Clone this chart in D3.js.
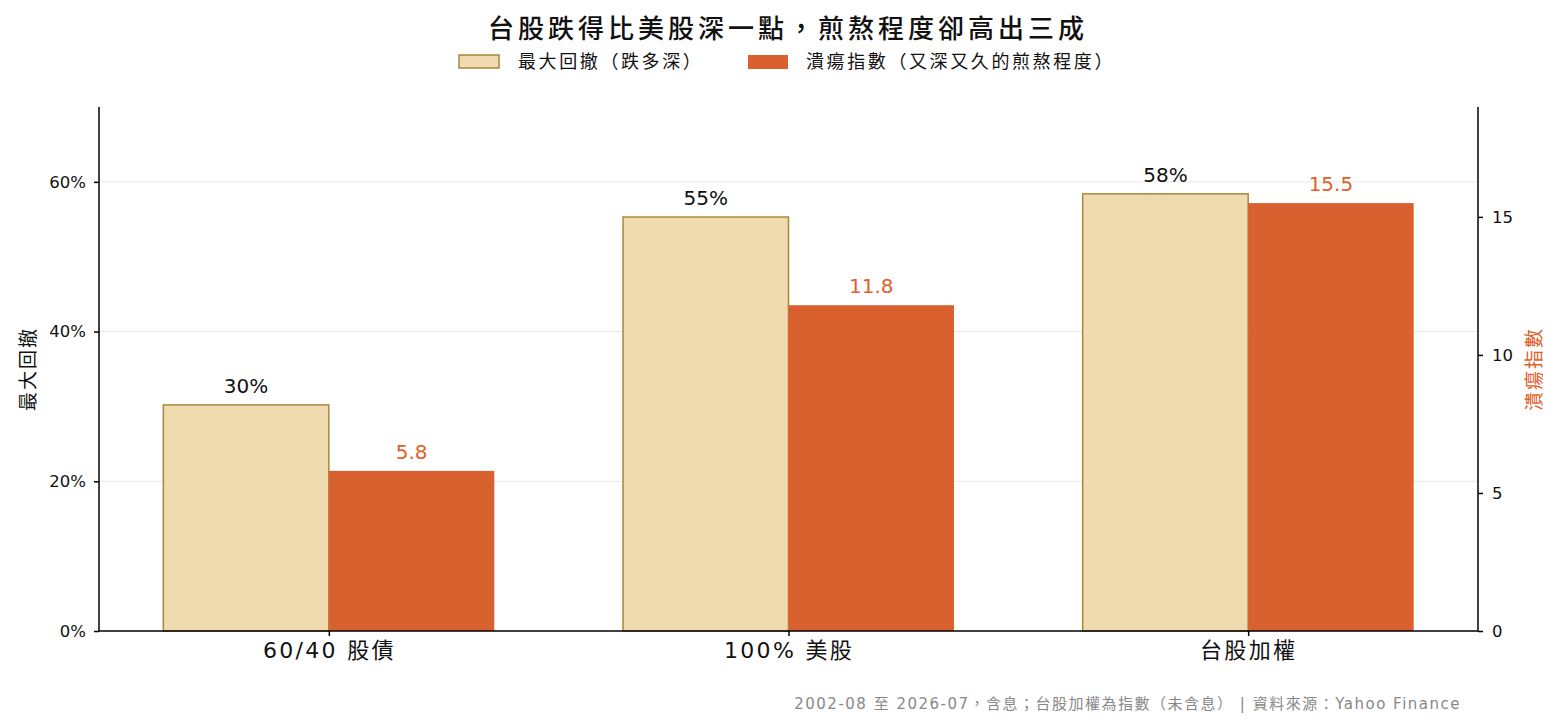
<!DOCTYPE html>
<html><head><meta charset="utf-8">
<script src="https://cdn.jsdelivr.net/npm/d3@7"></script>
<style>
body{margin:0;background:#fff;}
svg{display:block;font-family:"DejaVu Sans","Noto Sans CJK TC",sans-serif;}
</style></head>
<body><svg id="c" width="1560" height="727"></svg>
<script>
const categories = ["60/40 股債", "100% 美股", "台股加權"];
const maxDrawdown = [30.2, 55.3, 58.4];
const ulcerIndex = [5.8, 11.8, 15.5];
const drawdownLabels = ["30%", "55%", "58%"];
const ulcerLabels = ["5.8", "11.8", "15.5"];
const leftTicks = [0, 20, 40, 60];
const rightTicks = [0, 5, 10, 15];
const title = "台股跌得比美股深一點，煎熬程度卻高出三成";
const seriesNames = ["最大回撤（跌多深）", "潰瘍指數（又深又久的煎熬程度）"];
const footer = "2002-08 至 2026-07，含息；台股加權為指數（未含息） | 資料來源：Yahoo Finance";

const svg = d3.select("#c");
const L = 99, R = 1478, T = 107, B = 631;
const beige = "#F0DBB0", beigeStroke = "#A8873A", orange = "#D9602F", orangeText = "#E0602A";

const x = d3.scalePoint().domain(categories).range([L, R]).padding(0.5);
const step = x.step();
const bw = step * 0.36;
const yL = d3.scaleLinear().domain([0, 70]).range([B, T]);
const yR = d3.scaleLinear().domain([0, 18.98]).range([B, T]);

// grid
svg.append("g").selectAll("line").data(leftTicks.filter(d => d > 0)).join("line")
  .attr("x1", L).attr("x2", R).attr("y1", d => yL(d)).attr("y2", d => yL(d))
  .attr("stroke", "#e8e8e8").attr("stroke-width", 1);

// bars
svg.append("g").selectAll("rect").data(categories).join("rect")
  .attr("x", d => x(d) - bw).attr("width", bw)
  .attr("y", (d, i) => yL(maxDrawdown[i])).attr("height", (d, i) => B - yL(maxDrawdown[i]))
  .attr("fill", beige).attr("stroke", beigeStroke).attr("stroke-width", 1.5);
svg.append("g").selectAll("rect").data(categories).join("rect")
  .attr("x", d => x(d)).attr("width", bw)
  .attr("y", (d, i) => yR(ulcerIndex[i])).attr("height", (d, i) => B - yR(ulcerIndex[i]))
  .attr("fill", orange);

// value labels
svg.append("g").selectAll("text").data(categories).join("text")
  .attr("x", d => x(d) - bw / 2).attr("y", (d, i) => yL(maxDrawdown[i]) - 12)
  .attr("text-anchor", "middle").attr("font-size", 20).attr("fill", "#111")
  .text((d, i) => drawdownLabels[i]);
svg.append("g").selectAll("text").data(categories).join("text")
  .attr("x", d => x(d) + bw / 2).attr("y", (d, i) => yR(ulcerIndex[i]) - 12)
  .attr("text-anchor", "middle").attr("font-size", 20).attr("fill", orangeText)
  .text((d, i) => ulcerLabels[i]);

// axes
const axL = svg.append("g").attr("transform", `translate(${L},0)`)
  .call(d3.axisLeft(yL).tickValues(leftTicks).tickFormat(d => d + "%").tickSize(5).tickPadding(8));
const axR = svg.append("g").attr("transform", `translate(${R},0)`)
  .call(d3.axisRight(yR).tickValues(rightTicks).tickSize(5).tickPadding(9));
const axB = svg.append("g").attr("transform", `translate(0,${B})`)
  .call(d3.axisBottom(x).tickSize(5).tickPadding(6));
[axL, axR, axB].forEach(a => {
  a.attr("font-family", null);
  a.selectAll(".domain").attr("stroke", "#000").attr("stroke-width", 1.5);
  a.selectAll(".tick line").attr("stroke", "#000").attr("stroke-width", 1.5);
  a.selectAll("text").attr("fill", "#111");
});
axL.selectAll("text").attr("font-size", 16.5);
axR.selectAll("text").attr("font-size", 16.5);
axB.selectAll("text").attr("font-size", 22).attr("letter-spacing", 2.3);
axL.select(".domain").attr("d", `M-0,${T}H0V${B}H-0`);
axR.select(".domain").attr("d", `M0,${T}H0V${B}H0`);
axB.select(".domain").attr("d", `M${L},0H${R}`);

// axis titles
svg.append("text").attr("transform", `translate(35,${(T + B) / 2}) rotate(-90)`)
  .attr("text-anchor", "middle").attr("font-size", 19).attr("letter-spacing", 2).attr("fill", "#111").text("最大回撤");
svg.append("text").attr("transform", `translate(1541,${(T + B) / 2}) rotate(-90)`)
  .attr("text-anchor", "middle").attr("font-size", 19).attr("letter-spacing", 2).attr("fill", orangeText).text("潰瘍指數");

// title
svg.append("text").attr("x", 788).attr("y", 38).attr("text-anchor", "middle")
  .attr("font-size", 26).attr("font-weight", 500).attr("letter-spacing", 4).attr("fill", "#111").text(title);

// legend
const lg = svg.append("g");
lg.append("rect").attr("x", 459).attr("y", 55).attr("width", 40).attr("height", 13)
  .attr("fill", beige).attr("stroke", beigeStroke).attr("stroke-width", 1.5);
lg.append("text").attr("x", 518).attr("y", 68).attr("font-size", 18).attr("letter-spacing", 2.6).attr("fill", "#111").text(seriesNames[0]);
lg.append("rect").attr("x", 748).attr("y", 55).attr("width", 40).attr("height", 14).attr("fill", orange);
lg.append("text").attr("x", 806).attr("y", 68).attr("font-size", 18).attr("letter-spacing", 2.6).attr("fill", "#111").text(seriesNames[1]);

// footer
svg.append("text").attr("x", 1461).attr("y", 709).attr("text-anchor", "end")
  .attr("font-size", 15).attr("letter-spacing", 1.5).attr("fill", "#888").text(footer);
</script></body></html>
